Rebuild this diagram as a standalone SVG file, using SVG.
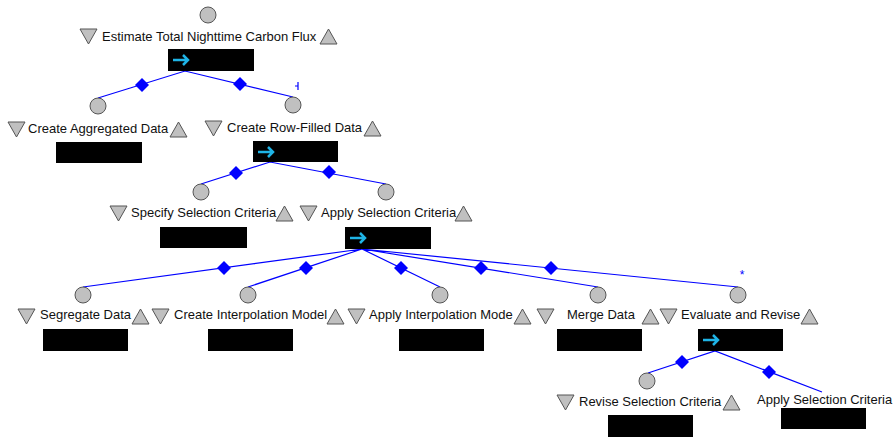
<svg xmlns="http://www.w3.org/2000/svg" width="896" height="437" viewBox="0 0 896 437">
<defs>
<style>
.c{fill:#c0c0c0;stroke:#555;stroke-width:1}
.t{fill:#c0c0c0;stroke:#555;stroke-width:1}
.r{fill:#000}
.l{font-family:"Liberation Sans",Arial,sans-serif;font-size:13px;fill:#111}
.e{stroke:#0000ff;stroke-width:1.2;fill:none}
.d{fill:#0000ff}
.a{stroke:#1fb4e6;stroke-width:2.5;fill:none}
</style>
<polygon id="dn" class="t" points="0,0 17,0 8.5,15"/>
<polygon id="up" class="t" points="0,15 17,15 8.5,0"/>
<polygon id="dm" class="d" points="0,-7 7,0 0,7 -7,0"/>
<g id="arr"><path class="a" d="M5,11 H20 M15,6 L20,11 L15,16"/></g>
</defs>
<rect width="896" height="437" fill="#fff"/>
<g id="connectors">
<path class="e" d="M98,98 L185,71 L293,97"/>
<use href="#dm" x="142" y="85"/><use href="#dm" x="240" y="84"/>
<path d="M298,82 V90 M295,86 H298" stroke="#0000ff" stroke-width="1.2"/>
<path class="e" d="M201,184 L270,162 L386,184"/>
<use href="#dm" x="236" y="173"/><use href="#dm" x="329" y="172"/>
<path class="e" d="M83,287 L362,249 L248,287 M362,249 L440,287 M362,249 L598,287 M362,249 L738,287"/>
<use href="#dm" x="224" y="268"/><use href="#dm" x="306" y="268"/><use href="#dm" x="401" y="268"/><use href="#dm" x="481" y="268"/><use href="#dm" x="551" y="268"/>
<text x="742" y="279" font-family="Liberation Sans,Arial,sans-serif" font-size="12" fill="#0000ff" text-anchor="middle">*</text>
<path class="e" d="M648,373 L715,351 L822,392"/>
<use href="#dm" x="682" y="362"/><use href="#dm" x="769" y="372"/>
</g>
<g id="n1">
<circle class="c" cx="208" cy="15" r="8"/>
<text class="l" x="102" y="41">Estimate Total Nighttime Carbon Flux</text>
<use href="#dn" x="80" y="29"/><use href="#up" x="320" y="29"/>
<rect class="r" x="168" y="49" width="86" height="22"/><use href="#arr" x="168" y="49"/>
</g>
<g id="n2">
<circle class="c" cx="98" cy="106" r="8"/>
<text class="l" x="28" y="133">Create Aggregated Data</text>
<use href="#dn" x="8" y="122"/><use href="#up" x="170" y="122"/>
<rect class="r" x="56" y="142" width="86" height="21"/>
</g>
<g id="n3">
<circle class="c" cx="293" cy="105" r="8"/>
<text class="l" x="227" y="132">Create Row-Filled Data</text>
<use href="#dn" x="205" y="121"/><use href="#up" x="364" y="121"/>
<rect class="r" x="253" y="141" width="85" height="21"/><use href="#arr" x="253" y="141"/>
</g>
<g id="n4">
<circle class="c" cx="201" cy="192" r="8"/>
<text class="l" x="131" y="217">Specify Selection Criteria</text>
<use href="#dn" x="110" y="206"/><use href="#up" x="276" y="206"/>
<rect class="r" x="160" y="227" width="87" height="21"/>
</g>
<g id="n5">
<circle class="c" cx="386" cy="192" r="8"/>
<text class="l" x="321" y="217">Apply Selection Criteria</text>
<use href="#dn" x="300" y="206"/><use href="#up" x="455" y="206"/>
<rect class="r" x="345" y="227" width="86" height="22"/><use href="#arr" x="345" y="227"/>
</g>
<g id="n6">
<circle class="c" cx="83" cy="295" r="8"/>
<text class="l" x="40" y="319">Segregate Data</text>
<use href="#dn" x="18" y="309"/><use href="#up" x="132" y="309"/>
<rect class="r" x="43" y="329" width="85" height="22"/>
</g>
<g id="n7">
<circle class="c" cx="248" cy="295" r="8"/>
<text class="l" x="174" y="319">Create Interpolation Model</text>
<use href="#dn" x="152" y="309"/><use href="#up" x="327" y="309"/>
<rect class="r" x="208" y="329" width="85" height="22"/>
</g>
<g id="n8">
<circle class="c" cx="440" cy="295" r="8"/>
<text class="l" x="369" y="319">Apply Interpolation Mode</text>
<use href="#dn" x="348" y="309"/><use href="#up" x="514" y="309"/>
<rect class="r" x="399" y="329" width="85" height="22"/>
</g>
<g id="n9">
<circle class="c" cx="598" cy="295" r="8"/>
<text class="l" x="567" y="319">Merge Data</text>
<use href="#dn" x="537" y="309"/><use href="#up" x="642" y="309"/>
<rect class="r" x="557" y="329" width="85" height="22"/>
</g>
<g id="n10">
<circle class="c" cx="738" cy="295" r="8"/>
<text class="l" x="681" y="319">Evaluate and Revise</text>
<use href="#dn" x="660" y="309"/><use href="#up" x="801" y="309"/>
<rect class="r" x="698" y="329" width="85" height="22"/><use href="#arr" x="698" y="329"/>
</g>
<g id="n11">
<circle class="c" cx="647" cy="381" r="8"/>
<text class="l" x="579" y="406">Revise Selection Criteria</text>
<use href="#dn" x="557" y="395"/><use href="#up" x="723" y="395"/>
<rect class="r" x="608" y="415" width="85" height="22"/>
</g>
<g id="n12">
<text class="l" x="757" y="404">Apply Selection Criteria</text>
<rect class="r" x="781" y="408" width="85" height="21"/>
</g>
</svg>
